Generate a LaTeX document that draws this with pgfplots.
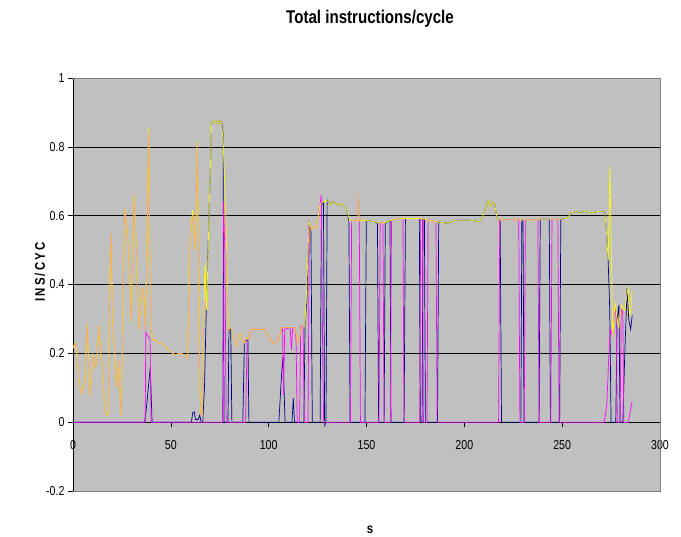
\documentclass[border=0pt]{standalone}
\usepackage{pgfplots}
\pgfplotsset{compat=1.18}
\usepackage{fontspec}
\setmainfont{Liberation Sans}[FakeStretch=0.82]
\definecolor{silver}{RGB}{192,192,192}
\definecolor{xlyellow}{RGB}{255,255,0}
\definecolor{xlorange}{RGB}{245,165,95}
\definecolor{xlnavy}{RGB}{0,0,128}
\definecolor{xlmagenta}{RGB}{255,0,255}
\begin{document}
\begin{tikzpicture}
\useasboundingbox (-73bp,-46bp) rectangle (608bp,491bp);
\begin{axis}[name=ax, at={(0,0)}, anchor=south west,
  scale only axis, width=587bp, height=413bp,
  xmin=0, xmax=300, ymin=-0.2, ymax=1,
  xtick={0,50,...,300}, ytick={-0.2,0,0.2,0.4,0.6,0.8,1},
  axis y line=left, axis x line=middle,
  hide obscured x ticks=false, hide obscured y ticks=false,
  axis line style={-, black, line width=0.6bp},
  axis background/.style={fill=silver},
  ymajorgrids, grid style={black, line width=0.6bp},
  tick style={black, line width=0.6bp},
  major tick length=5bp, tick align=outside,
  ticklabel style={font=\fontsize{13}{15}\selectfont},
  xticklabel style={yshift=-10bp},
  /pgf/number format/assume math mode=true,
  every axis plot/.append style={line width=0.7bp, mark=none},
]
% navy
\addplot[xlnavy] coordinates {
(0,0) (36.6,0) (37.5,0.04) (38.5,0.1) (39.5,0.16) (40.4,0) (60.5,0) (61.2,0.028) (62,0.03) (62.6,0.008) (64,0.008) (64.8,0.02) (65.5,0) (66.3,0) (67.2,0.1) (68,0.3) (69.5,0.6) (70.9,0.873) (72,0.87) (73,0.878) (74,0.866) (75,0.875) (76,0.873) (76.7,0.84) (77.2,0) (79.2,0) (79.7,0.27) (80.6,0.27) (81.2,0) (86.8,0) (87.6,0.235) (89.4,0.24) (89.9,0) (105.2,0) (106.5,0.13) (107.3,0.19) (108.4,0) (111.9,0) (112.6,0.07) (113.2,0) (118,0) (118.6,0.28) (119.5,0.35) (120.7,0.582) (121.6,0.56) (122.3,0) (126.3,0) (127,0.63) (128,0.64) (128.6,-0.01) (129.3,0) (129.9,0.645) (131.3,0.631) (132.6,0.64) (133.9,0.638) (135.5,0.63) (137.3,0.636) (139.9,0.616) (141,0.585) (141.6,0) (149.2,0) (149.9,0.585) (151.8,0.585) (155.6,0.58) (156.2,0) (159,0) (159.6,0.578) (162,0.585) (162.5,0) (169.2,0) (169.9,0.592) (177,0.592) (177.5,0) (178.4,0) (178.9,0.59) (179.6,0.59) (180.1,0) (186.3,0) (186.9,0.582) (191.7,0.578) (196,0.587) (202.9,0.587) (208,0.582) (209.5,0.6) (210.5,0.616) (212.2,0.645) (213.4,0.626) (214.5,0.64) (215.6,0.631) (216.5,0.6) (217.3,0.587) (218.3,0.587) (219,0) (228.9,0) (229.4,0.588) (230,0.588) (230.5,0) (238.2,0) (238.8,0.59) (243.4,0.59) (244,0) (248.7,0) (249.3,0.59) (250,0.59) (252.3,0.592) (254.8,0.608) (257,0.612) (259,0.61) (262,0.612) (265,0.608) (268,0.612) (271.8,0.611) (272.7,0.548) (273.5,0.47) (274.3,0.33) (275,0) (277.4,0) (278.1,0.3) (279,0.34) (279.6,0) (281,0) (282,0.2) (283.2,0.39) (284,0.3) (285,0.27) (285.8,0.31)
};
% magenta
\addplot[xlmagenta] coordinates {
(0,0) (36.9,0) (37.2,0.26) (38.3,0.25) (39.4,0.24) (39.9,0) (76.4,0) (76.9,0.64) (77.6,0.5) (78.3,0) (88.2,0) (89,0.24) (89.6,0.24) (90.5,0.265) (91.3,0.27) (95,0.27) (98.1,0.27) (99.5,0.255) (100.7,0.24) (102.4,0.229) (104.9,0.238) (106.6,0.275) (107.1,0.27) (107.6,0.08) (108.2,0.27) (111,0.275) (111.6,0.21) (112.3,0.275) (113.4,0.275) (114,0.24) (114.6,0) (115.8,0) (116.4,0.28) (117.6,0.28) (118.2,0) (120.1,0) (120.8,0.58) (122,0.558) (123.1,0.568) (124.5,0.566) (126.2,0.631) (126.9,0.66) (127.6,0.2) (128.1,0) (141.8,0) (142.4,0.585) (144.6,0.585) (146.3,0.587) (146.9,0) (156.4,0) (157,0.58) (158.4,0.578) (159,0) (162.2,0) (162.8,0.585) (165,0.59) (168.6,0.592) (169.2,0) (177.2,0) (177.7,0.592) (178.6,0.59) (179.1,0) (180.9,0) (181.5,0.588) (185.5,0.582) (186.1,0) (217.5,0) (218.1,0.587) (220,0.589) (227.8,0.588) (228.4,0) (230.6,0) (231.2,0.588) (237.6,0.59) (238.2,0) (244.2,0) (244.8,0.59) (247.8,0.59) (248.4,0) (271.5,0) (272.8,0.05) (273.9,0.2) (274.6,0.27) (275.8,0.25) (277,0.34) (277.6,0.3) (278.2,0) (279.6,0) (280.2,0.33) (281,0.32) (281.5,0) (283.8,0) (285.8,0.06)
};
% yellow (total)
\addplot[xlyellow] coordinates {
(0,0.215) (1,0.23) (2,0.2) (3,0.12) (4.2,0.084) (5,0.1) (6,0.117) (6.6,0.2) (7.3,0.288) (8,0.15) (8.5,0.074) (9.3,0.12) (10.2,0.195) (11,0.17) (11.6,0.16) (12.4,0.2) (13.3,0.28) (14.2,0.2) (15,0.16) (16,0.06) (17,0.02) (17.9,0.02) (19.2,0.55) (20.4,0.3) (21.3,0.2) (22.1,0.1) (23.3,0.18) (24,0.08) (24.7,0.02) (26.4,0.62) (27.3,0.57) (28.5,0.5) (29.8,0.29) (31.2,0.66) (32.4,0.5) (33.7,0.27) (35.3,0.39) (36.1,0.38) (37.1,0.27) (38.7,0.854) (39.7,0.277) (40.9,0.238) (42,0.24) (44,0.228) (45,0.232) (47,0.22) (48,0.215) (50,0.205) (52,0.195) (54.4,0.2) (56,0.198) (58.1,0.195) (58.6,0.186) (59.4,0.48) (60.3,0.57) (61.2,0.616) (61.6,0.58) (62.3,0.5) (62.9,0.6) (63.5,0.815) (64.2,0.45) (64.8,0.1) (65.3,0.03) (65.9,0.02) (66.6,0.25) (67.5,0.456) (68.3,0.326) (69.5,0.6) (70.9,0.873) (72,0.87) (73,0.878) (74,0.866) (75,0.875) (76,0.873) (76.8,0.8) (78,0.626) (79.4,0.267) (80.3,0.275) (81,0.27) (82,0.245) (83.6,0.22) (84.5,0.25) (85.7,0.26) (86.5,0.235) (87.4,0.23) (88.5,0.245) (89.6,0.24) (90.5,0.265) (91.3,0.27) (95,0.27) (98.1,0.27) (99.5,0.255) (100.7,0.24) (102.4,0.229) (104.9,0.238) (106.6,0.275) (113.4,0.275) (114.2,0.25) (115.1,0.229) (116.9,0.282) (118.5,0.277) (119.5,0.4) (120.7,0.582) (122,0.558) (123.1,0.568) (124.5,0.566) (126.2,0.631) (128,0.64) (129.6,0.645) (131.3,0.631) (132.6,0.64) (133.9,0.638) (135.5,0.63) (137.3,0.636) (139.9,0.616) (141.5,0.585) (144.6,0.585) (147,0.587) (151.8,0.585) (156,0.58) (158.6,0.578) (162,0.585) (165,0.59) (168.8,0.592) (177.3,0.592) (181,0.588) (185.8,0.582) (191.7,0.578) (196,0.587) (202.9,0.587) (208,0.582) (209.5,0.6) (210.5,0.616) (212.2,0.645) (213.4,0.626) (214.5,0.64) (215.6,0.631) (216.5,0.6) (217.3,0.587) (220,0.589) (230,0.588) (240,0.59) (250,0.59) (252.3,0.592) (254.8,0.608) (257,0.612) (259,0.61) (262,0.612) (265,0.608) (268,0.612) (271.8,0.611) (272.7,0.548) (273.5,0.47) (274.4,0.742) (275.8,0.248) (277,0.345) (278.7,0.277) (280.4,0.34) (282,0.325) (283.7,0.393) (284.6,0.306) (285.8,0.379)
};
% orange segments
\addplot[xlorange] coordinates {
(0,0.215) (1,0.23) (2,0.2) (3,0.12) (4.2,0.084) (5,0.1) (6,0.117) (6.6,0.2) (7.3,0.288) (8,0.15) (8.5,0.074) (9.3,0.12) (10.2,0.195) (11,0.17) (11.6,0.16) (12.4,0.2) (13.3,0.28) (14.2,0.2) (15,0.16) (16,0.06) (17,0.02) (17.9,0.02) (19.2,0.55) (20.4,0.3) (21.3,0.2) (22.1,0.1) (23.3,0.18) (24,0.08) (24.7,0.02) (26.4,0.62) (27.3,0.57) (28.5,0.5) (29.8,0.29) (31.2,0.66) (32.4,0.5) (33.7,0.27) (35.3,0.39) (36.1,0.38) (37.1,0.27) (38.7,0.84) (39.7,0.277) (40.9,0.238) (42,0.24) (44,0.228) (45,0.232) (47,0.22) (48,0.215) (50,0.205) (52,0.195) (54.4,0.2) (56,0.198) (58.1,0.195) (58.6,0.186) (59.4,0.48) (60.3,0.57) (61.2,0.6) (61.6,0.58) (62.3,0.5) (62.9,0.6) (63.5,0.815) (64.2,0.45) (64.8,0.1) (65.3,0.03) (65.9,0.02) (66.6,0.25) (67.2,0.35)
};
\addplot[xlorange] coordinates {
(77.6,0.637) (78.5,0.45) (79.4,0.267) (80.3,0.275) (81,0.27) (82,0.245) (83.6,0.22) (84.5,0.25) (85.7,0.26) (86.5,0.235) (87.4,0.23) (88.5,0.245) (89.6,0.24) (90.5,0.265) (91.3,0.27) (95,0.27) (98.1,0.27) (99.5,0.255) (100.7,0.24) (102.4,0.229) (104.9,0.238) (106.6,0.275) (113.4,0.275) (114.2,0.25) (115.1,0.229) (116.9,0.282) (118.5,0.277)
};
\addplot[xlorange] coordinates {
(144.6,0.585) (145.3,0.6) (145.8,0.66) (146.4,0.6) (147,0.587)
};
\addplot[xlorange] coordinates {
(218.3,0.587) (220,0.589) (230,0.588) (240,0.59) (250,0.59)
};
\end{axis}
\draw[gray, line width=0.8bp] (ax.south west) -- (ax.south east) -- (ax.north east) -- (ax.north west);
\node[font=\bfseries\fontsize{18.5}{20}\selectfont] at (297bp,472bp) {Total instructions/cycle};
\node[rotate=90, font=\bfseries\fontsize{14}{16}\selectfont] at (-33bp,219bp) {I\kern2.2bp N\kern2.2bp S\kern2.2bp /\kern2.2bp C\kern2.2bp Y\kern2.2bp C};
\node[font=\bfseries\fontsize{14}{16}\selectfont] at (297bp,-39bp) {s};
\end{tikzpicture}
\end{document}
